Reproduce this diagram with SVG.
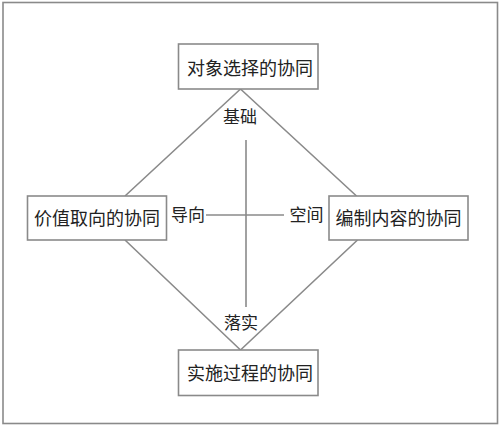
<svg xmlns="http://www.w3.org/2000/svg" width="500" height="426" viewBox="0 0 500 426">
<style>
.box{fill:#fff;stroke:#8a8a8a;stroke-width:1.6}
.ln{fill:none;stroke:#8a8a8a;stroke-width:1.6}
.t{font-family:"Noto Sans CJK SC","Noto Sans",sans-serif;font-size:18px;fill:#222;text-anchor:middle}
.l{font-family:"Noto Sans CJK SC","Noto Sans",sans-serif;font-size:17px;fill:#222;text-anchor:middle}
</style>
<rect x="0" y="0" width="500" height="426" fill="#fff"/>
<rect x="3" y="2.5" width="494.5" height="421" fill="none" stroke="#8a8a8a" stroke-width="1.6"/>
<g id="connectors">
<path class="ln" d="M240.5,89 L125,196 M240.5,89 L356.5,196 M125,240 L240.5,350 M357.5,240 L240.5,350"/>
<path class="ln" d="M246,140 L246,307 M206,215 L284,215"/>
</g>
<g id="node-top"><rect class="box" x="178.5" y="44" width="139.5" height="45"/><text class="t" x="250" y="74.5">对象选择的协同</text></g>
<g id="node-left"><rect class="box" x="27.5" y="196" width="139" height="44"/><text class="t" x="97" y="224.5">价值取向的协同</text></g>
<g id="node-right"><rect class="box" x="329" y="196" width="139" height="44"/><text class="t" x="398.5" y="224.5">编制内容的协同</text></g>
<g id="node-bottom"><rect class="box" x="178.5" y="350" width="139.5" height="45.5"/><text class="t" x="250" y="380">实施过程的协同</text></g>
<g id="labels">
<text class="l" x="240" y="123">基础</text>
<text class="l" x="188" y="221">导向</text>
<text class="l" x="306.5" y="221">空间</text>
<text class="l" x="241" y="329">落实</text>
</g>
</svg>
